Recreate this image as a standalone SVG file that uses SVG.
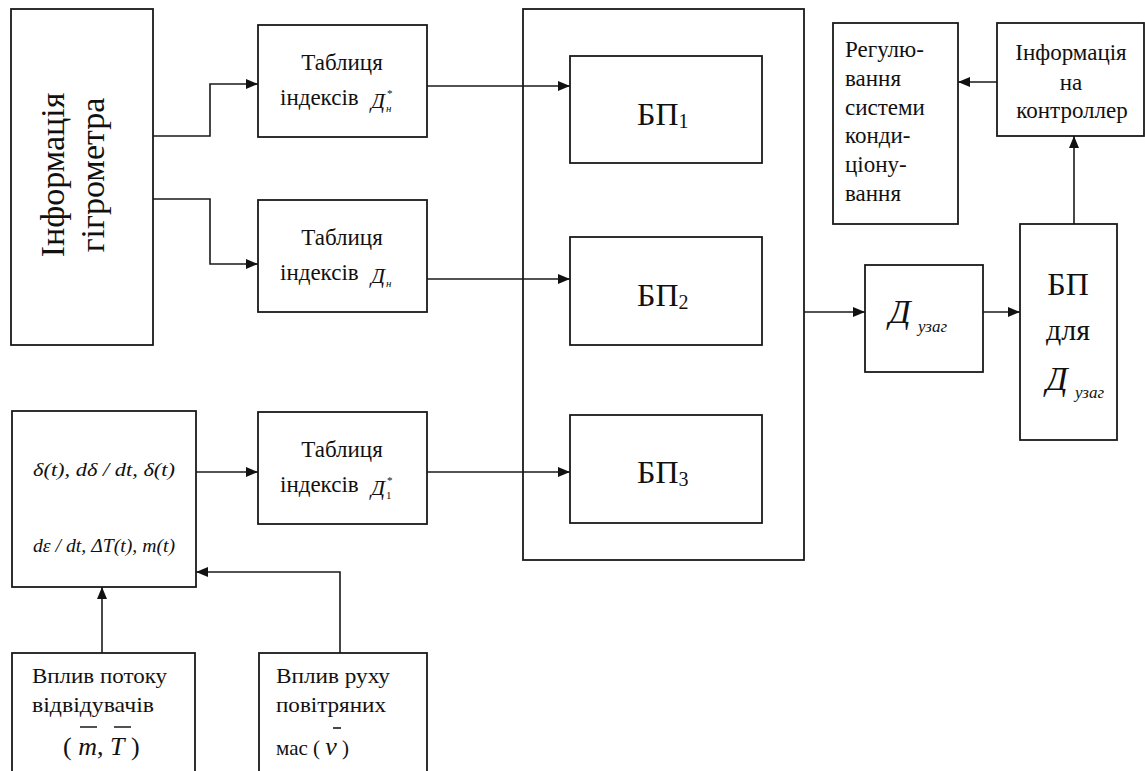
<svg xmlns="http://www.w3.org/2000/svg" width="1145" height="771" viewBox="0 0 1145 771">
<style>
.box{fill:#fff;stroke:#1a1a1a;stroke-width:1.8}
.ln{fill:none;stroke:#1a1a1a;stroke-width:1.6}
text{font-family:"Liberation Serif","DejaVu Serif",serif;fill:#111}
.t{font-size:23px}
.it{font-style:italic}
</style>
<defs>
<marker id="ah" markerWidth="12" markerHeight="10" refX="12" refY="5" orient="auto" markerUnits="userSpaceOnUse">
<path d="M0,0 L12,5 L0,10 z" fill="#111"/>
</marker>
</defs>
<rect width="1145" height="771" fill="#fff"/>

<g id="hygro">
<rect class="box" x="11" y="9" width="142" height="336"/>
<text font-size="34" text-anchor="middle" transform="translate(64,175) rotate(-90)">Інформація</text>
<text font-size="34" text-anchor="middle" transform="translate(104,175) rotate(-90)">гігрометра</text>
</g>

<g id="table1">
<rect class="box" x="258" y="25" width="169" height="112"/>
<text class="t" x="342" y="70" text-anchor="middle">Таблиця</text>
<text class="t" x="280" y="105">індексів</text>
<text class="it" font-size="22" x="371" y="108">Д</text>
<text class="it" font-size="11" x="386" y="112">н</text>
<text font-size="11" x="387" y="97">*</text>
</g>

<g id="table2">
<rect class="box" x="258" y="200" width="169" height="112"/>
<text class="t" x="342" y="245" text-anchor="middle">Таблиця</text>
<text class="t" x="280" y="280">індексів</text>
<text class="it" font-size="22" x="371" y="283">Д</text>
<text class="it" font-size="11" x="386" y="287">н</text>
</g>

<g id="table3">
<rect class="box" x="258" y="412" width="169" height="112"/>
<text class="t" x="342" y="457" text-anchor="middle">Таблиця</text>
<text class="t" x="280" y="492">індексів</text>
<text class="it" font-size="22" x="371" y="495">Д</text>
<text font-size="11" x="386" y="499">1</text>
<text font-size="11" x="387" y="484">*</text>
</g>

<g id="bpgroup">
<rect class="box" x="523" y="9" width="281" height="551"/>
</g>

<g id="bp1">
<rect class="box" x="570" y="56" width="192" height="107"/>
<text font-size="32" x="637" y="125">БП<tspan font-size="20" dy="3">1</tspan></text>
</g>
<g id="bp2">
<rect class="box" x="570" y="237" width="192" height="108"/>
<text font-size="32" x="637" y="306">БП<tspan font-size="20" dy="3">2</tspan></text>
</g>
<g id="bp3">
<rect class="box" x="570" y="415" width="192" height="108"/>
<text font-size="32" x="637" y="483">БП<tspan font-size="20" dy="3">3</tspan></text>
</g>

<g id="dsum">
<rect class="box" x="865" y="265" width="118" height="107"/>
<text class="it" font-size="34" x="889" y="323">Д</text>
<text class="it" font-size="17" x="918" y="332">узаг</text>
</g>

<g id="bpd">
<rect class="box" x="1020" y="224" width="97" height="216"/>
<text font-size="32" x="1068" y="295" text-anchor="middle">БП</text>
<text font-size="30" x="1068" y="340" text-anchor="middle">для</text>
<text class="it" font-size="34" x="1046" y="390">Д</text>
<text class="it" font-size="17" x="1075" y="398">узаг</text>
</g>

<g id="regul">
<rect class="box" x="833" y="23" width="125" height="201"/>
<text class="t" x="845" y="57">Регулю-</text>
<text class="t" x="845" y="86">вання</text>
<text class="t" x="845" y="115">системи</text>
<text class="t" x="845" y="143">конди-</text>
<text class="t" x="845" y="172">ціону-</text>
<text class="t" x="845" y="201">вання</text>
</g>

<g id="info">
<rect class="box" x="997" y="23" width="147" height="113"/>
<text class="t" x="1071" y="60" text-anchor="middle">Інформація</text>
<text class="t" x="1071" y="90" text-anchor="middle">на</text>
<text class="t" x="1072" y="118" text-anchor="middle">контроллер</text>
</g>

<g id="params">
<rect class="box" x="12" y="411" width="184" height="176"/>
<text class="it" font-size="19" x="33" y="476" textLength="142" lengthAdjust="spacingAndGlyphs">δ(t), dδ / dt, δ(t)</text>
<text class="it" font-size="19" x="33" y="552" textLength="142" lengthAdjust="spacingAndGlyphs">dε / dt, ΔT(t), m(t)</text>
</g>

<g id="visitors">
<rect class="box" x="12" y="653" width="183" height="140"/>
<text font-size="21" x="32" y="683" textLength="135" lengthAdjust="spacingAndGlyphs">Вплив потоку</text>
<text font-size="21" x="32" y="712" textLength="122" lengthAdjust="spacingAndGlyphs">відвідувачів</text>
<text font-size="26" x="63" y="755">( <tspan font-style="italic">m</tspan>, <tspan font-style="italic">T</tspan> )</text>
<path class="ln" d="M80,727 H97 M114,727 H131"/>
</g>

<g id="airmass">
<rect class="box" x="259" y="653" width="168" height="140"/>
<text font-size="21" x="276" y="683" textLength="114" lengthAdjust="spacingAndGlyphs">Вплив руху</text>
<text font-size="21" x="276" y="712" textLength="110" lengthAdjust="spacingAndGlyphs">повітряних</text>
<text font-size="21" x="276" y="755">мас ( <tspan font-size="26" font-style="italic">ν</tspan> )</text>
<path class="ln" d="M333,728 H341"/>
</g>

<g id="connectors">
<path class="ln" d="M153,136 H210 V84 H258" marker-end="url(#ah)"/>
<path class="ln" d="M153,199 H210 V264 H258" marker-end="url(#ah)"/>
<path class="ln" d="M427,86 H570" marker-end="url(#ah)"/>
<path class="ln" d="M427,279 H570" marker-end="url(#ah)"/>
<path class="ln" d="M196,472 H258" marker-end="url(#ah)"/>
<path class="ln" d="M427,472 H570" marker-end="url(#ah)"/>
<path class="ln" d="M804,312 H865" marker-end="url(#ah)"/>
<path class="ln" d="M983,312 H1020" marker-end="url(#ah)"/>
<path class="ln" d="M1074,224 V136" marker-end="url(#ah)"/>
<path class="ln" d="M997,82 H958" marker-end="url(#ah)"/>
<path class="ln" d="M102,653 V587" marker-end="url(#ah)"/>
<path class="ln" d="M340,653 V572 H196" marker-end="url(#ah)"/>
</g>
</svg>
